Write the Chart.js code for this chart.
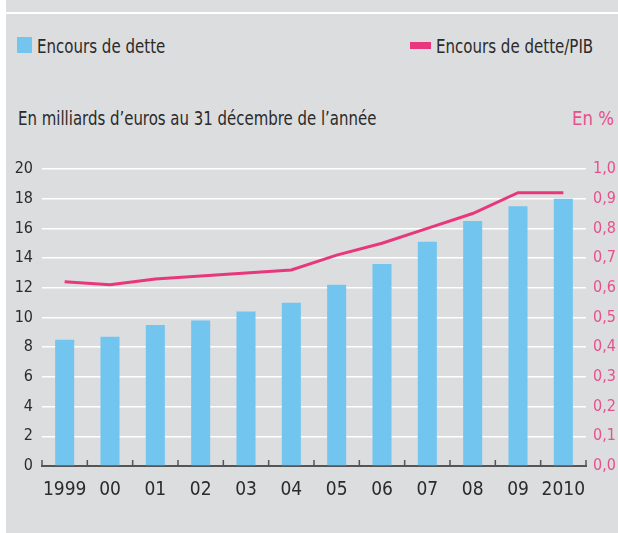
<!DOCTYPE html>
<html>
<head>
<meta charset="utf-8">
<script src="https://cdn.jsdelivr.net/npm/chart.js@4/dist/chart.umd.min.js"></script>
<style>
  html, body { margin: 0; padding: 0; background: #ffffff; width: 618px; height: 533px; overflow: hidden; }
  #panel { position: absolute; left: 6px; top: 0; width: 612px; height: 533px; background: #dcdddf; }
  #rule { position: absolute; left: 6px; top: 12px; width: 612px; height: 2px; background: #ffffff; }
  .txt { position: absolute; font-family: "Liberation Sans Narrow", "DejaVu Sans Condensed", sans-serif; color: #2b2b2b; white-space: nowrap; line-height: normal; transform-origin: 0 0; }
  .sw { position: absolute; }
  #chartbox { position: absolute; left: 6px; top: 140px; width: 612px; height: 380px; }
</style>
</head>
<body>
<div id="panel"></div>
<div id="rule"></div>
<div class="sw" style="left:17px;top:37px;width:15px;height:16px;background:#71c5ef;"></div>
<div class="txt" id="leg1" style="left:37px;top:35px;font-size:19px;transform:scaleX(0.88);">Encours de dette</div>
<div class="sw" style="left:410px;top:42px;width:21px;height:7px;background:#e8377d;"></div>
<div class="txt" id="leg2" style="left:436px;top:35px;font-size:19px;transform:scaleX(0.88);">Encours de dette/PIB</div>
<div class="txt" id="sub" style="left:18px;top:107px;font-size:19px;transform:scaleX(0.875);">En milliards d’euros au 31 décembre de l’année</div>
<div class="txt" id="unit" style="left:572px;top:107px;font-size:19px;color:#e8508a;transform:scaleX(0.97);">En %</div>
<div id="chartbox"><canvas id="c" width="612" height="380"></canvas></div>
<script>
const categories = ["1999", "00", "01", "02", "03", "04", "05", "06", "07", "08", "09", "2010"];
const detteValues = [8.5, 8.7, 9.5, 9.8, 10.4, 11.0, 12.2, 13.6, 15.1, 16.5, 17.5, 18.0];
const ratioValues = [0.62, 0.61, 0.63, 0.64, 0.65, 0.66, 0.71, 0.75, 0.80, 0.85, 0.92, 0.92];
const seriesNames = ["Encours de dette", "Encours de dette/PIB"];

const FONT = "'Liberation Sans Narrow', 'DejaVu Sans Condensed', sans-serif";

const upTicks = {
  id: 'upTicks',
  afterDatasetsDraw(chart) {
    const x = chart.scales.x;
    const ctx = chart.ctx;
    const n = categories.length;
    const y = x.top;
    ctx.save();
    ctx.strokeStyle = '#555555';
    ctx.lineWidth = 1.5;
    for (let i = 0; i <= n; i++) {
      const px = x.left + (x.right - x.left) * i / n;
      ctx.beginPath();
      ctx.moveTo(px, y);
      ctx.lineTo(px, y - 6);
      ctx.stroke();
    }
    ctx.restore();
  }
};

new Chart(document.getElementById('c'), {
  data: {
    labels: categories,
    datasets: [
      {
        type: 'line',
        label: seriesNames[1],
        data: ratioValues,
        yAxisID: 'y1',
        borderColor: '#e8377d',
        borderWidth: 3,
        pointRadius: 0,
        tension: 0,
        order: 0
      },
      {
        type: 'bar',
        label: seriesNames[0],
        data: detteValues,
        yAxisID: 'y',
        backgroundColor: '#71c5ef',
        categoryPercentage: 1.0,
        barPercentage: 0.42,
        order: 1
      }
    ]
  },
  options: {
    responsive: false,
    animation: false,
    layout: { padding: { top: 29, bottom: 0, left: 0, right: 0 } },
    plugins: { legend: { display: false }, tooltip: { enabled: false } },
    scales: {
      x: {
        offset: true,
        grid: { display: false, drawTicks: false },
        border: { display: true, color: '#555555', width: 2 },
        ticks: { color: '#2b2b2b', font: { family: FONT, size: 19 }, padding: 13, maxRotation: 0, autoSkip: false },
        afterFit: s => { s.height = 54; }
      },
      y: {
        position: 'left',
        min: 0, max: 20,
        ticks: { stepSize: 2, color: '#2b2b2b', font: { family: FONT, size: 16 }, padding: 9 },
        grid: { color: '#ffffff', lineWidth: 1.5, drawTicks: false },
        border: { display: false },
        afterFit: s => { s.width = 36; }
      },
      y1: {
        position: 'right',
        min: 0, max: 1,
        ticks: { stepSize: 0.1, color: '#e8508a', font: { family: FONT, size: 16 }, padding: 7,
                 callback: v => v.toFixed(1).replace('.', ',') },
        grid: { display: false, drawTicks: false },
        border: { display: false },
        afterFit: s => { s.width = 32; }
      }
    }
  },
  plugins: [upTicks]
});
</script>
</body>
</html>
